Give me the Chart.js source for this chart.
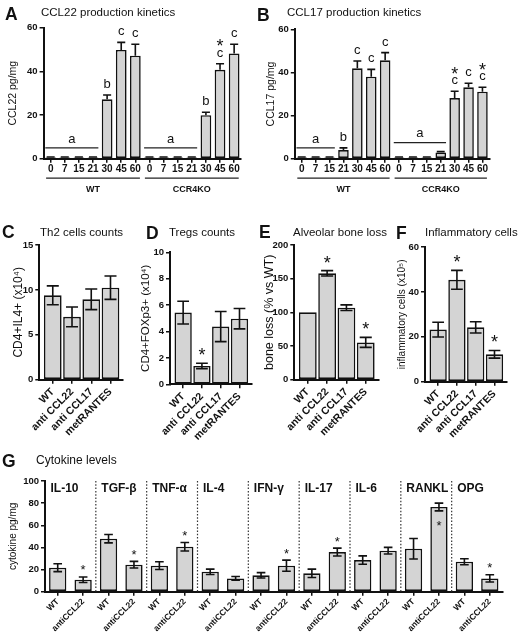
<!DOCTYPE html>
<html>
<head>
<meta charset="utf-8">
<title>Chemokines and cytokines</title>
<script src="https://cdn.jsdelivr.net/npm/chart.js@4.4.0/dist/chart.umd.min.js"></script>
<style>
  body { margin: 0; background: #fff; }
  #fig { position: relative; width: 520px; height: 635px; overflow: hidden; font-family: "Liberation Sans", Arial, sans-serif; color: #111; }
  #fig canvas { position: absolute; }
  .panel { position: absolute; font-size: 17.5px; font-weight: bold; line-height: 1; }
  .title { position: absolute; font-size: 11.5px; line-height: 1; white-space: nowrap; }
</style>
</head>
<body>
<div id="fig">
  <canvas id="chartA"></canvas>
  <canvas id="chartB"></canvas>
  <canvas id="chartC"></canvas>
  <canvas id="chartD"></canvas>
  <canvas id="chartE"></canvas>
  <canvas id="chartF"></canvas>
  <canvas id="chartG"></canvas>

  <div class="panel" style="left:5px;top:6px">A</div>
  <div class="title" style="left:41px;top:7px">CCL22 production kinetics</div>
  <div class="panel" style="left:257px;top:7px">B</div>
  <div class="title" style="left:287px;top:7px">CCL17 production kinetics</div>
  <div class="panel" style="left:2px;top:224px">C</div>
  <div class="title" style="left:40px;top:227px">Th2 cells counts</div>
  <div class="panel" style="left:146px;top:225px">D</div>
  <div class="title" style="left:169px;top:227px">Tregs counts</div>
  <div class="panel" style="left:259px;top:224px">E</div>
  <div class="title" style="left:293px;top:227px">Alveolar bone loss</div>
  <div class="panel" style="left:396px;top:225px">F</div>
  <div class="title" style="left:425px;top:227px">Inflammatory cells</div>
  <div class="panel" style="left:2px;top:453px">G</div>
  <div class="title" style="left:36px;top:454px;font-size:12px">Cytokine levels</div>
</div>

<script>
// A - CCL22 (pg/mg) by day, WT then CCR4KO
const daysA = ['0', '7', '15', '21', '30', '45', '60', '0', '7', '15', '21', '30', '45', '60'];
const strains = ['WT', 'CCR4KO'];
const ccl22 = [0.5, 0.5, 0.5, 0.5, 27.2, 49.8, 47.2, 0.5, 0.5, 0.5, 0.5, 19.9, 40.7, 48.2];
const ccl22Err = [0.3, 0.3, 0.3, 0.3, 2, 3.5, 5.2, 0.3, 0.3, 0.3, 0.3, 1.4, 2.8, 4.2];
const ccl22Marks = ['', '', '', '', 'b', 'c', 'c', '', '', '', '', 'b', 'c*', 'c'];
const ccl22Spans = [[0, 3, 'a'], [7, 10, 'a']];

// B - CCL17 (pg/mg)
const ccl17 = [0.5, 0.5, 0.5, 4, 41.9, 38, 45.6, 0.5, 0.5, 0.5, 2.9, 28.1, 33.1, 31.1];
const ccl17Err = [0.3, 0.3, 0.3, 1, 3.4, 3.4, 3.6, 0.3, 0.3, 0.3, 0.4, 3.2, 1.9, 2];
const ccl17Marks = ['', '', '', 'b', 'c', 'c', 'c', '', '', '', '', 'c*', 'c', 'c*'];
const ccl17Spans = [[0, 2, 'a'], [7, 10, 'a']];

// C-F - treatments
const treatments = ['WT', 'anti CCL22', 'anti CCL17', 'metRANTES'];
const th2 = [9.4, 7, 8.95, 10.25];
const th2Err = [1.05, 1.1, 1.15, 1.3];
const tregs = [5.43, 1.39, 4.37, 4.97];
const tregsErr = [0.86, 0.2, 1.14, 0.77];
const tregsMarks = ['', '*', '', ''];
const boneLoss = [100, 157.9, 106.9, 55.4];
const boneLossErr = [0, 4, 4.2, 7.4];
const boneLossMarks = ['', '*', '', '*'];
const inflam = [23.2, 45.4, 24.2, 12.2];
const inflamErr = [3.3, 4.2, 2.5, 1.7];
const inflamMarks = ['', '*', '', '*'];

// G - cytokines (pg/mg), WT vs antiCCL22
const cytokines = ['IL-10', 'TGF-β', 'TNF-α', 'IL-4', 'IFN-γ', 'IL-17', 'IL-6', 'RANKL', 'OPG'];
const groupsG = ['WT', 'antiCCL22'];
const cytoWT = [21.7, 47.9, 23.5, 18, 14.8, 16.6, 28.6, 38.8, 27.1];
const cytoWTErr = [3.6, 3.8, 3.5, 2.4, 2.4, 3.8, 3.8, 9.2, 2.7];
const cytoAnti = [10.8, 24.4, 40.6, 12, 23.5, 35.8, 37, 76.5, 12];
const cytoAntiErr = [2.5, 3, 3.8, 1.7, 5, 3.6, 3, 3.5, 3.3];
const cytoStar = [1, 1, 1, 0, 1, 1, 0, -1, 1]; // -1: star drawn inside the bar

const FONT = '"Liberation Sans", Arial, sans-serif';
const INK = '#111';
const BAR_FILL = '#d4d4d4';
Chart.defaults.font.family = FONT;
Chart.defaults.color = INK;

function valueAt(chart, i) {
  return chart.getDatasetMeta(0).controller.getParsed(i).y;
}

const errorBars = {
  id: 'errorBars',
  afterDatasetsDraw(chart, args, opts) {
    const ds = chart.data.datasets[0];
    const meta = chart.getDatasetMeta(0);
    const yS = chart.scales.y;
    const ctx = chart.ctx;
    ctx.save();
    ctx.strokeStyle = INK;
    ctx.lineWidth = 1.6;
    meta.data.forEach((bar, i) => {
      const e = ds.errors[i];
      if (!e) return;
      const v = valueAt(chart, i);
      const half = bar.width * opts.cap / 2;
      const top = yS.getPixelForValue(v + e);
      const bot = yS.getPixelForValue(opts.both ? v - e : v);
      ctx.beginPath();
      ctx.moveTo(bar.x, top);
      ctx.lineTo(bar.x, bot);
      ctx.moveTo(bar.x - half, top);
      ctx.lineTo(bar.x + half, top);
      if (opts.both) {
        ctx.moveTo(bar.x - half, bot);
        ctx.lineTo(bar.x + half, bot);
      }
      ctx.stroke();
    });
    ctx.restore();
  }
};

const sigMarks = {
  id: 'sigMarks',
  afterDatasetsDraw(chart, args, opts) {
    const ds = chart.data.datasets[0];
    if (!ds.marks) return;
    const meta = chart.getDatasetMeta(0);
    const yS = chart.scales.y;
    const ctx = chart.ctx;
    ctx.save();
    ctx.fillStyle = INK;
    ctx.textAlign = 'center';
    ctx.textBaseline = 'middle';
    ds.marks.forEach((m, i) => {
      if (!m) return;
      const bar = meta.data[i];
      const v = valueAt(chart, i);
      const inside = ds.inside && ds.inside[i];
      let y = inside ? yS.getPixelForValue(v) + 17 : yS.getPixelForValue(v + (ds.errors[i] || 0)) - opts.gap;
      for (const ch of m) {
        if (ch === '*') {
          ctx.font = opts.starSize + 'px ' + FONT;
          ctx.fillText('*', bar.x, y + opts.starSize * 0.22);
        } else {
          ctx.font = '13px ' + FONT;
          ctx.fillText(ch, bar.x, y - 1);
        }
        y -= opts.step;
      }
    });
    ctx.restore();
  }
};

// strain brackets under the axis and the 'a' lines over the early days
const kinetics = {
  id: 'kinetics',
  afterDraw(chart) {
    const ds = chart.data.datasets[0];
    const meta = chart.getDatasetMeta(0);
    const yS = chart.scales.y;
    const { ctx, chartArea } = chart;
    const step = meta.data[1].x - meta.data[0].x;
    const per = meta.data.length / ds.groups.length;
    ctx.save();
    ctx.strokeStyle = '#222';
    ctx.fillStyle = INK;
    ctx.lineWidth = 1.3;
    ctx.textAlign = 'center';
    ctx.textBaseline = 'middle';
    ds.groups.forEach((g, k) => {
      const x0 = meta.data[k * per].x - step / 2 + 2.5;
      const x1 = meta.data[k * per + per - 1].x + step / 2 - 2.5;
      const yl = chartArea.bottom + 19.5;
      ctx.beginPath();
      ctx.moveTo(x0, yl);
      ctx.lineTo(x1, yl);
      ctx.stroke();
      ctx.font = 'bold 9px ' + FONT;
      ctx.fillText(g, (x0 + x1) / 2, chartArea.bottom + 31);
    });
    ds.spans.forEach(([i0, i1, txt]) => {
      let top = Infinity;
      for (let i = i0; i <= i1; i++) {
        top = Math.min(top, yS.getPixelForValue(valueAt(chart, i) + (ds.errors[i] || 0)));
      }
      const x0 = meta.data[i0].x - meta.data[i0].width / 2;
      const x1 = meta.data[i1].x + meta.data[i1].width / 2;
      const yl = top - 9;
      ctx.beginPath();
      ctx.moveTo(x0, yl);
      ctx.lineTo(x1, yl);
      ctx.stroke();
      ctx.font = '13px ' + FONT;
      ctx.fillText(txt, (x0 + x1) / 2, yl - 9);
    });
    ctx.restore();
  }
};

// dotted separators and names for the cytokine groups
const cytoPanels = {
  id: 'cytoPanels',
  afterDatasetsDraw(chart) {
    const ds = chart.data.datasets[0];
    const meta = chart.getDatasetMeta(0);
    const { ctx, chartArea } = chart;
    const step = meta.data[1].x - meta.data[0].x;
    const per = groupsG.length;
    ctx.save();
    ctx.strokeStyle = '#333';
    ctx.fillStyle = INK;
    ctx.lineWidth = 1.2;
    ctx.setLineDash([1.5, 1.8]);
    ctx.textAlign = 'left';
    ctx.textBaseline = 'middle';
    ctx.font = 'bold 12px ' + FONT;
    ds.groupNames.forEach((name, k) => {
      const left = meta.data[k * per].x - step / 2;
      if (k > 0) {
        ctx.beginPath();
        ctx.moveTo(left, chartArea.top);
        ctx.lineTo(left, chartArea.bottom);
        ctx.stroke();
      }
      ctx.fillText(name, left + 5.5, chartArea.top + 8);
    });
    ctx.restore();
  }
};

function yScale(max, step, title, titleSize, box, plot) {
  return {
    min: 0,
    max: max,
    ticks: { stepSize: step, font: { size: 9.5, weight: 'bold' }, padding: 2, color: INK },
    grid: { drawOnChartArea: false, drawTicks: true, tickLength: 4, color: INK, lineWidth: 1.5 },
    border: { color: INK, width: 2 },
    title: { display: true, text: title, font: { size: titleSize }, padding: 0, color: INK },
    afterFit: s => { s.width = plot[0] - box[0]; }
  };
}

function xScale(box, plot, fontSize, rot, extra, tickExtra) {
  return Object.assign({
    grid: { drawOnChartArea: false, offset: false, drawTicks: true, tickLength: 4, color: INK, lineWidth: 1.5 },
    border: { color: INK, width: 2 },
    ticks: Object.assign({ font: { size: fontSize, weight: 'bold' }, padding: 1, autoSkip: false, minRotation: rot, maxRotation: rot, color: INK }, tickExtra),
    afterFit: s => { s.height = box[1] + box[3] - plot[3]; }
  }, extra);
}

function makeChart(id, box, plot, data, scales, plugins, pluginOpts, barPct) {
  const canvas = document.getElementById(id);
  canvas.width = box[2];
  canvas.height = box[3];
  canvas.style.left = box[0] + 'px';
  canvas.style.top = box[1] + 'px';
  data.datasets.forEach(ds => Object.assign(ds, {
    backgroundColor: BAR_FILL,
    borderColor: INK,
    borderWidth: 1.6,
    borderSkipped: false,
    categoryPercentage: 1,
    barPercentage: barPct
  }));
  return new Chart(canvas, {
    type: 'bar',
    data: data,
    options: {
      responsive: false,
      animation: false,
      layout: { padding: { left: 0, bottom: 0, top: plot[1] - box[1], right: box[0] + box[2] - plot[2] } },
      plugins: Object.assign({ legend: { display: false }, tooltip: { enabled: false } }, pluginOpts),
      scales: scales
    },
    plugins: plugins
  });
}

// --- A and B ---
const boxA = [7, 16, 244, 190], plotA = [43.6, 27.7, 241.2, 158.7];
makeChart('chartA', boxA, plotA,
  { labels: daysA, datasets: [{ data: ccl22, errors: ccl22Err, marks: ccl22Marks, spans: ccl22Spans, groups: strains }] },
  { x: xScale(boxA, plotA, 10, 0, { offset: true }, {}), y: yScale(60, 20, 'CCL22 pg/mg', 10.5, boxA, plotA) },
  [errorBars, sigMarks, kinetics],
  { errorBars: { cap: 0.75, both: false }, sigMarks: { gap: 9.5, step: 11, starSize: 18 } },
  0.76);

const boxB = [265, 16, 250, 190], plotB = [294.8, 29.3, 489.4, 158.7];
makeChart('chartB', boxB, plotB,
  { labels: daysA, datasets: [{ data: ccl17, errors: ccl17Err, marks: ccl17Marks, spans: ccl17Spans, groups: strains }] },
  { x: xScale(boxB, plotB, 10, 0, { offset: true }, {}), y: yScale(60, 20, 'CCL17 pg/mg', 10.5, boxB, plotB) },
  [errorBars, sigMarks, kinetics],
  { errorBars: { cap: 0.75, both: false }, sigMarks: { gap: 9.5, step: 11, starSize: 18 } },
  0.76);

// --- C to F: numeric x so the bars sit off the y axis ---
function treatmentChart(id, box, plot, values, errs, marks, max, step, title, titleSize) {
  const pts = values.map((v, i) => ({ x: i, y: v }));
  return makeChart(id, box, plot,
    { datasets: [{ data: pts, errors: errs, marks: marks }] },
    {
      x: xScale(box, plot, 10.5, 45, {
        type: 'linear', min: -0.7, max: 3.65, bounds: 'data', offset: false,
        afterBuildTicks: s => { s.ticks = treatments.map((t, i) => ({ value: i })); }
      }, { callback: v => treatments[v], padding: 2 }),
      y: yScale(max, step, title, titleSize, box, plot)
    },
    [errorBars, sigMarks],
    { errorBars: { cap: 0.68, both: true }, sigMarks: { gap: 11, step: 11, starSize: 18 } },
    0.92);
}

treatmentChart('chartC', [11, 236, 128, 204], [39.3, 245, 123, 379.7], th2, th2Err, null, 15, 5, 'CD4+IL4+ (x10⁴)', 12);
treatmentChart('chartD', [139, 236, 125, 204], [170, 252.3, 251.7, 384.3], tregs, tregsErr, tregsMarks, 10, 2, 'CD4+FOXp3+ (x10⁴)', 11.5);
treatmentChart('chartE', [262, 236, 130, 204], [294.3, 245, 378.3, 379.7], boneLoss, boneLossErr, boneLossMarks, 200, 50, 'bone loss (% vs WT)', 12.5);
treatmentChart('chartF', [396, 236, 122, 204], [425, 247, 506.7, 381.7], inflam, inflamErr, inflamMarks, 60, 20, 'inflammatory cells (x10⁵)', 10);

// --- G ---
const labelsG = [], valuesG = [], errG = [], marksG = [], insideG = [];
cytokines.forEach((c, k) => {
  labelsG.push(groupsG[0], groupsG[1]);
  valuesG.push(cytoWT[k], cytoAnti[k]);
  errG.push(cytoWTErr[k], cytoAntiErr[k]);
  marksG.push('', cytoStar[k] ? '*' : '');
  insideG.push(false, cytoStar[k] < 0);
});

const boxG = [7, 468, 508, 167], plotG = [45, 481, 502.5, 591.7];
makeChart('chartG', boxG, plotG,
  { labels: labelsG, datasets: [{ data: valuesG, errors: errG, marks: marksG, inside: insideG, groupNames: cytokines }] },
  { x: xScale(boxG, plotG, 8.5, 45, { offset: true }, {}), y: yScale(100, 20, 'cytokine pg/mg', 10, boxG, plotG) },
  [cytoPanels, errorBars, sigMarks],
  { errorBars: { cap: 0.5, both: true }, sigMarks: { gap: 9, step: 11, starSize: 13 } },
  0.68);
</script>
</body>
</html>
